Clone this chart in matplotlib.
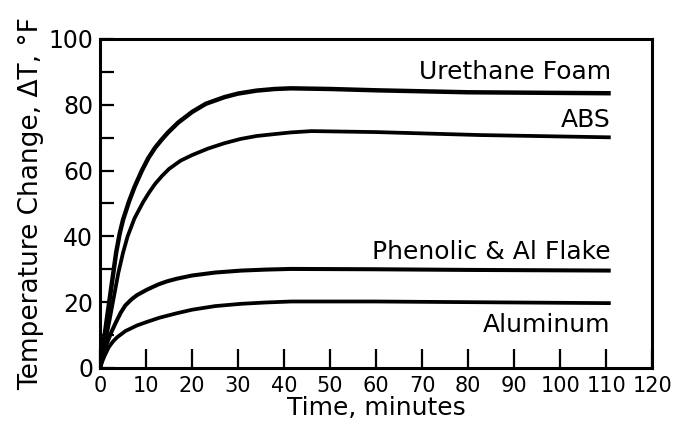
import matplotlib
matplotlib.use("Agg")
import matplotlib.pyplot as plt

# values (time in minutes, delta T in degF)
urethane_t = [0, 0.5, 1, 1.5, 2, 2.5, 3, 3.5, 4.3, 5, 6.3, 7.5, 9.1, 10.5, 12, 13.4, 14.8, 17,
              20, 23, 27, 30, 34, 38, 41.5, 50, 60, 80, 111]
urethane_v = [0, 5, 10, 15, 20, 25, 30, 35, 41, 45, 50.6, 55, 60, 63.8, 67, 69.4, 71.6, 74.6,
              77.8, 80.3, 82.3, 83.4, 84.3, 84.8, 85, 84.8, 84.4, 83.8, 83.5]

abs_t = [0, 1, 2, 2.8, 4, 5, 6, 7.5, 9.4, 10.7, 12, 13.5, 15, 17.5, 20, 23.5, 27, 30.5, 34,
         38, 41.5, 46, 60, 82.5, 111]
abs_v = [0, 7, 14, 20, 29, 35, 40, 45.5, 50.5, 53.4, 56, 58.4, 60.5, 63, 64.7, 66.7, 68.3, 69.6,
         70.5, 71.1, 71.6, 72, 71.7, 70.8, 70.1]

phenolic_t = [0, 0.7, 1.5, 2.5, 3.5, 4.5, 5.5, 6.8, 8, 10.2, 12.7, 14.5, 16.6, 20, 25, 30.7,
              36, 41.5, 60, 80, 111]
phenolic_v = [0, 4, 7.5, 11, 14, 16.8, 19, 20.8, 22.1, 23.8, 25.4, 26.3, 27.1, 28.1, 29, 29.6,
              29.9, 30.1, 30, 29.8, 29.6]

aluminum_t = [0, 0.5, 1, 1.9, 2.8, 3.7, 5.5, 8, 10.2, 13, 16.6, 20, 25, 30.7, 36, 41.5, 60, 80, 111]
aluminum_v = [0, 2, 3.7, 6.3, 8, 9.3, 11.2, 12.9, 14, 15.3, 16.6, 17.7, 18.8, 19.5, 19.9, 20.2,
              20.2, 20, 19.7]

x_ticks = list(range(0, 121, 10))
y_ticks = list(range(0, 101, 10))
y_labels = [str(v) if v % 20 == 0 else "" for v in y_ticks]

fig = plt.figure(figsize=(6.73, 4.37), dpi=100)
ax = fig.add_axes([0.1486, 0.158, 0.8204, 0.7528])

ax.plot(urethane_t, urethane_v, color="black", lw=3.2, solid_capstyle="butt", solid_joinstyle="round")
ax.plot(abs_t, abs_v, color="black", lw=2.7, solid_capstyle="butt", solid_joinstyle="round")
ax.plot(phenolic_t, phenolic_v, color="black", lw=2.9, solid_capstyle="butt", solid_joinstyle="round")
ax.plot(aluminum_t, aluminum_v, color="black", lw=2.7, solid_capstyle="butt", solid_joinstyle="round")

# curve labels, right aligned at the end of the lines
lab = dict(ha="right", va="center", fontsize=18, color="black")
ax.text(111, 90, "Urethane Foam", **lab)
ax.text(111, 75.5, "ABS", **lab)
ax.text(111, 35.3, "Phenolic & Al Flake", **lab)
ax.text(111, 13, "Aluminum", **lab)

ax.set_xlim(0, 120)
ax.set_ylim(0, 100)
ax.set_xticks(x_ticks)
ax.set_xticklabels([str(v) for v in x_ticks])
ax.set_yticks(y_ticks)
ax.set_yticklabels(y_labels)

ax.tick_params(axis="x", direction="in", length=14, width=1.6, labelsize=15, pad=6)
ax.tick_params(axis="y", direction="in", length=10, width=1.6, labelsize=17, pad=5)
for s in ax.spines.values():
    s.set_linewidth(2.2)

ax.set_xlabel("Time, minutes", fontsize=18, labelpad=0)
ax.set_ylabel("Temperature Change, ΔT, °F", fontsize=19, labelpad=3)

fig.savefig("out.png", dpi=100)
